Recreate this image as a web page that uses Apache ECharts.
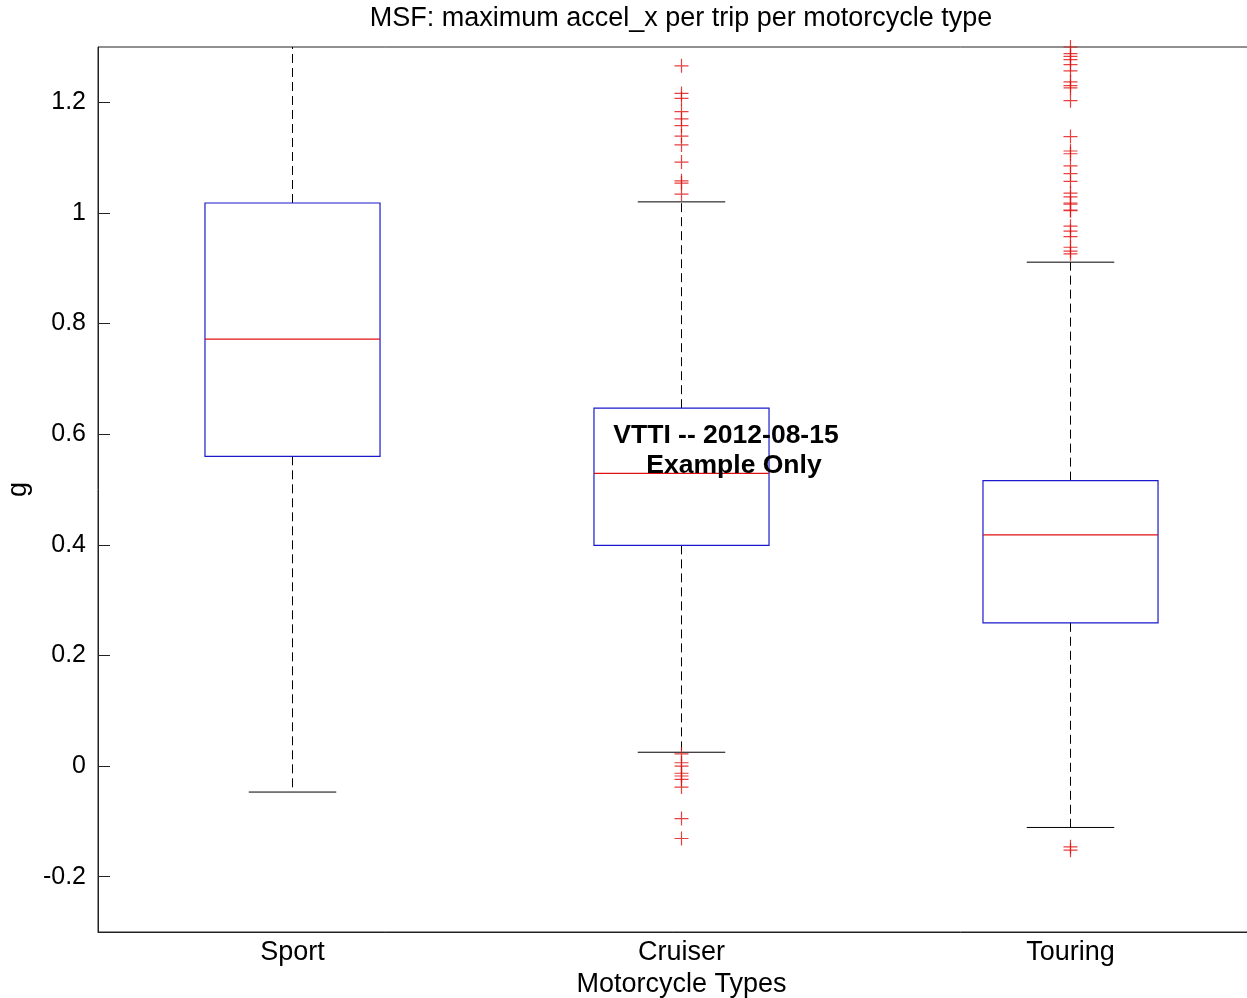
<!DOCTYPE html>
<html>
<head>
<meta charset="utf-8">
<title>MSF boxplot</title>
<script src="https://cdn.jsdelivr.net/npm/echarts@6/dist/echarts.min.js"></script>
<style>
  html, body { margin: 0; padding: 0; background: #fff; }
  #chart { width: 1247px; height: 998px; }
</style>
</head>
<body>
<div id="chart"></div>
<script>
const categories = ['Sport', 'Cruiser', 'Touring']
// box statistics per category
const lowerWhisker = [-0.047, 0.025, -0.111]
const q1 = [0.560, 0.399, 0.259]
const median = [0.772, 0.529, 0.418]
const q3 = [1.018, 0.647, 0.516]
const upperWhisker = [1.48, 1.020, 0.911]
// outliers
const cruiserOutliers = [
  1.266, 1.216, 1.207, 1.183, 1.170, 1.158, 1.139, 1.123, 1.092, 1.058, 1.054, 1.034,
  0.022, 0.006, 0.0, -0.013, -0.018, -0.024, -0.038, -0.095, -0.131
]
const touringOutliers = [
  1.300, 1.288, 1.283, 1.277, 1.268, 1.257, 1.237, 1.230, 1.226, 1.203,
  1.138, 1.112, 1.107, 1.085, 1.071, 1.057, 1.036, 1.029, 1.018, 1.016,
  1.005, 1.004, 0.976, 0.967, 0.957, 0.938, 0.931, 0.926,
  -0.146, -0.152
]

const FONT = 'Liberation Sans, Arial, sans-serif'

const boxData = categories.map((c, i) => [i, lowerWhisker[i], q1[i], median[i], q3[i], upperWhisker[i]])
const outlierData = []
cruiserOutliers.forEach(v => outlierData.push([1, v]))
touringOutliers.forEach(v => outlierData.push([2, v]))

function renderBox(params, api) {
  const x = api.value(0)
  const band = api.size([1, 0])[0]
  const halfBox = band * 0.225
  const halfCap = band * 0.1125
  const pLo = api.coord([x, api.value(1)])
  const pQ1 = api.coord([x, api.value(2)])
  const pMed = api.coord([x, api.value(3)])
  const pQ3 = api.coord([x, api.value(4)])
  const pHi = api.coord([x, api.value(5)])
  const cx = pQ1[0]
  const dash = { stroke: '#000', lineWidth: 1, lineDash: [9, 5] }
  const solid = { stroke: '#000', lineWidth: 1 }
  return {
    type: 'group',
    children: [
      { type: 'line', shape: { x1: cx, y1: pQ3[1], x2: cx, y2: pHi[1] }, style: dash },
      { type: 'line', shape: { x1: cx, y1: pQ1[1], x2: cx, y2: pLo[1] }, style: dash },
      { type: 'line', shape: { x1: cx - halfCap, y1: pHi[1], x2: cx + halfCap, y2: pHi[1] }, style: solid },
      { type: 'line', shape: { x1: cx - halfCap, y1: pLo[1], x2: cx + halfCap, y2: pLo[1] }, style: solid },
      {
        type: 'rect',
        shape: { x: cx - halfBox, y: pQ3[1], width: halfBox * 2, height: pQ1[1] - pQ3[1] },
        style: { fill: 'none', stroke: '#1a1acc', lineWidth: 1.2 }
      },
      {
        type: 'line',
        shape: { x1: cx - halfBox, y1: pMed[1], x2: cx + halfBox, y2: pMed[1] },
        style: { stroke: '#e01010', lineWidth: 1.2 }
      }
    ]
  }
}

const chart = echarts.init(document.getElementById('chart'))
chart.setOption({
  animation: false,
  backgroundColor: '#fff',
  grid: {
    left: 98,
    top: 47,
    width: 1167,
    height: 885,
    containLabel: false,
    outerBoundsMode: 'none',
    show: true,
    borderColor: '#222',
    borderWidth: 1
  },
  xAxis: {
    type: 'category',
    data: categories,
    name: 'Motorcycle Types',
    nameLocation: 'middle',
    nameGap: 37,
    nameTextStyle: { fontFamily: FONT, fontSize: 27, color: '#000' },
    axisLine: { onZero: false, lineStyle: { color: '#222' } },
    axisTick: { show: false },
    axisLabel: { fontFamily: FONT, fontSize: 27, color: '#000', margin: 7 },
    splitLine: { show: false }
  },
  yAxis: {
    type: 'value',
    min: -0.3,
    max: 1.3,
    splitNumber: 8,
    name: 'g',
    nameLocation: 'middle',
    nameRotate: 90,
    nameGap: 63,
    nameTextStyle: { fontFamily: FONT, fontSize: 27, color: '#000' },
    axisLine: { show: true, lineStyle: { color: '#222' } },
    axisTick: { show: true, inside: true, length: 12, lineStyle: { color: '#222' } },
    axisLabel: { fontFamily: FONT, fontSize: 25, color: '#000', margin: 12, showMinLabel: false, showMaxLabel: false },
    splitLine: { show: false }
  },
  graphic: [
    {
      type: 'text',
      x: 681,
      y: 19,
      style: {
        text: 'MSF: maximum accel_x per trip per motorcycle type',
        font: '27px ' + FONT,
        fill: '#000',
        textAlign: 'center',
        textVerticalAlign: 'middle'
      }
    },
    {
      type: 'text',
      x: 726,
      y: 436,
      z: 100,
      style: {
        text: 'VTTI -- 2012-08-15',
        font: 'bold 26.5px ' + FONT,
        fill: '#000',
        textAlign: 'center',
        textVerticalAlign: 'middle'
      }
    },
    {
      type: 'text',
      x: 734,
      y: 466,
      z: 100,
      style: {
        text: 'Example Only',
        font: 'bold 26.5px ' + FONT,
        fill: '#000',
        textAlign: 'center',
        textVerticalAlign: 'middle'
      }
    }
  ],
  series: [
    {
      type: 'custom',
      clip: true,
      renderItem: renderBox,
      encode: { x: 0, y: [1, 2, 3, 4, 5] },
      data: boxData
    },
    {
      type: 'scatter',
      symbol: 'path://M0,7L14,7M7,0L7,14',
      symbolSize: 14,
      clip: true,
      itemStyle: { color: 'transparent', borderColor: '#e01010', borderWidth: 1.2 },
      data: outlierData
    }
  ]
})
</script>
</body>
</html>
